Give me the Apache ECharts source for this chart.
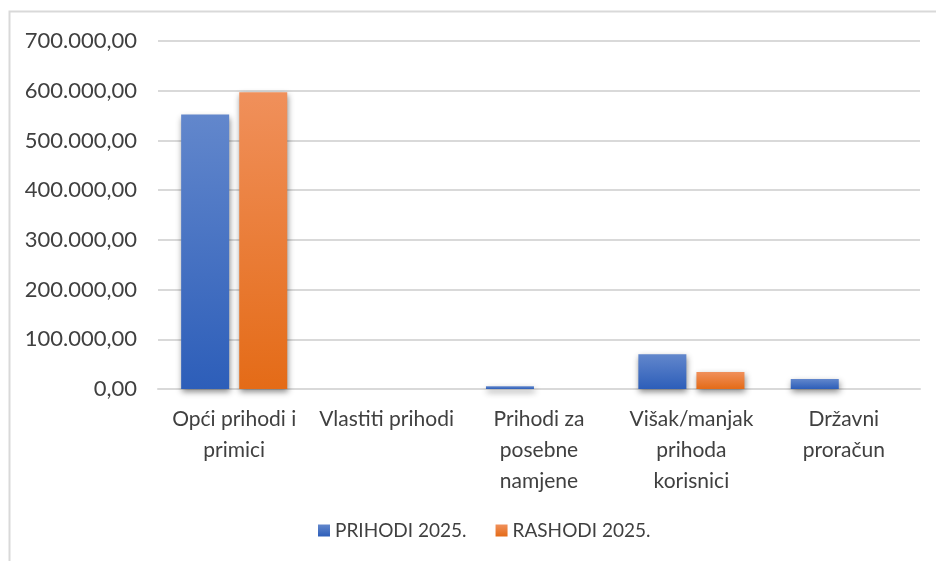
<!DOCTYPE html>
<html>
<head>
<meta charset="utf-8">
<script src="https://cdn.jsdelivr.net/npm/echarts@6/dist/echarts.min.js"></script>
<style>
html,body{margin:0;padding:0;background:#fff;}
#chart{width:936px;height:561px;}
</style>
</head>
<body>
<div id="chart"></div>
<script>
const categories = ["Opći prihodi i\nprimici", "Vlastiti prihodi", "Prihodi za\nposebne\nnamjene", "Višak/manjak\nprihoda\nkorisnici", "Državni\nproračun"];
const seriesNames = ["PRIHODI 2025.", "RASHODI 2025."];
const prihodi = [552000, 0, 5500, 70000, 20000];
const rashodi = [597000, 0, 0, 34000, 0];
const yTicks = [0, 100000, 200000, 300000, 400000, 500000, 600000, 700000];

const FONT = "Lato";
function fmt(v){
  const s = Math.round(v).toString().replace(/\B(?=(\d{3})+(?!\d))/g, ".");
  return s + ",00";
}
function grad(top, bottom){
  return new echarts.graphic.LinearGradient(0,0,0,1,[{offset:0,color:top},{offset:1,color:bottom}]);
}
const chart = echarts.init(document.getElementById('chart'), null, {renderer:'canvas'});
chart.setOption({
  animation:false,
  backgroundColor:'#ffffff',
  textStyle:{fontFamily:FONT},
  graphic:[{
    type:'polyline',
    shape:{points:[[9.5,600],[9.5,11.5],[940,11.5]]},
    style:{stroke:'#d9d9d9',lineWidth:2,fill:null},
    silent:true
  }],
  grid:{left:158,right:16,top:41,bottom:172,containLabel:false},
  legend:{
    data:seriesNames,
    bottom:16,
    left:313,
    itemWidth:12,itemHeight:12,itemGap:29,
    icon:'rect',
    textStyle:{fontFamily:FONT,fontSize:19,color:'#404040'}
  },
  xAxis:{
    type:'category',
    data:categories,
    axisLine:{show:true,lineStyle:{color:'#d9d9d9',width:2}},
    axisTick:{show:false},
    axisLabel:{fontFamily:FONT,fontSize:21,color:'#404040',lineHeight:31,margin:15,interval:0,verticalAlign:'top'}
  },
  yAxis:{
    type:'value',
    min:yTicks[0],max:yTicks[yTicks.length-1],interval:100000,
    axisLine:{show:false},axisTick:{show:false},
    splitLine:{lineStyle:{color:'#d9d9d9',width:2}},
    axisLabel:{fontFamily:FONT,fontSize:22,color:'#404040',margin:21,formatter:fmt}
  },
  series:[
    {
      name:seriesNames[0],type:'bar',data:prihodi,
      barWidth:48,barGap:'21%',
      itemStyle:{color:grad('#6287cc','#2d5eb9'),shadowColor:'rgba(0,0,0,0.45)',shadowBlur:6,shadowOffsetX:1,shadowOffsetY:3}
    },
    {
      name:seriesNames[1],type:'bar',data:rashodi,
      barWidth:48,
      itemStyle:{color:grad('#f0905b','#e46b17'),shadowColor:'rgba(0,0,0,0.45)',shadowBlur:6,shadowOffsetX:1,shadowOffsetY:3}
    }
  ]
});
</script>
</body>
</html>
